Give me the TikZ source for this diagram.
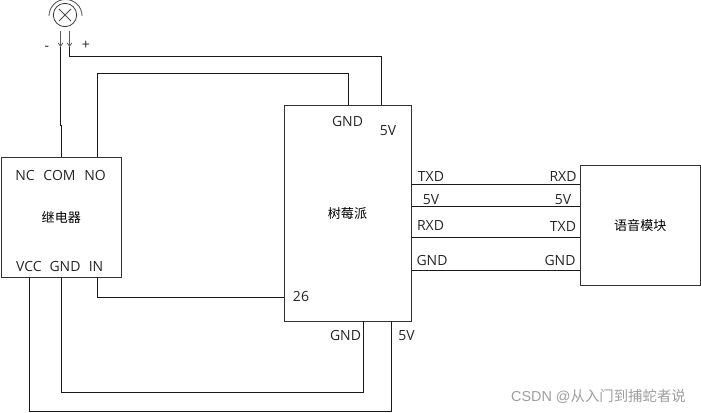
\documentclass[tikz,border=0pt]{standalone}
\usepackage{fontspec}
\setmainfont{Open Sans}
\newfontfamily\cjk{Noto Sans CJK SC}
\newfontfamily\markfont{Liberation Sans}
\usetikzlibrary{arrows.meta}
\tikzset{
	x=0.75pt, y=-0.75pt,
	box/.style={draw=black!80, line width=0.75pt, minimum width=90pt, minimum height=90pt, inner sep=0pt, font=\cjk\fontsize{9.8}{11}\selectfont},
	pin/.style={inner sep=0pt, text height=8pt, text depth=0pt, font=\fontsize{10.5}{12}\selectfont, text=black!85},
	wire/.style={draw=black!90, line width=0.7pt},
	stub/.style={draw=black!65, line width=0.6pt, -{Straight Barb[length=2.5pt,width=3.5pt]}}
}
\begin{document}
\begin{tikzpicture}
	\useasboundingbox (0,0) rectangle (701,413);

	% the three modules
	\node[box] (relay) at (61.3,217.5) {继电器};
	\node[box, minimum width=95.25pt, minimum height=162pt] (pi) at (347.5,213.3) {树莓派};
	\node[box] (voice) at (640.3,225.5) {语音模块};

	% lamp
	\node[draw=black!80, circle, line width=0.6pt, minimum size=17.5pt, inner sep=0pt] (lamp) at (65,15) {};
	\draw[black!70, line width=0.6pt] (lamp.center) ++(-6,-6) -- ++(12,12);
	\draw[black!70, line width=0.6pt] (lamp.center) ++(6,-6) -- ++(-12,12);
	\draw[black!70, line width=0.6pt] (49,16) arc[start angle=180, end angle=0, radius=12.4pt];
	\coordinate (lampa) at (60.5,31);
	\coordinate (lampb) at (69.5,31);
	\coordinate (lampc) at (60.5,47);
	\coordinate (lampd) at (69.5,47);
	\draw[stub] (lampa) -- (lampc);
	\draw[stub] (lampb) -- (lampd);
	\node[pin] (minus) at (47,45) {-};
	\node[pin] (plus) at (86,44) {+};

	% relay pins
	\node[pin] (nc) at (25,175) {NC};
	\node[pin] (com) at (59.5,175) {COM};
	\node[pin] (no) at (95,175) {NO};
	\node[pin] (vcc) at (29,266) {VCC};
	\node[pin] (rgnd) at (65,266) {GND};
	\node[pin] (in) at (96,266) {IN};

	% raspberry pi pins
	\node[pin] (pgnd) at (347.5,121) {GND};
	\node[pin] (pfive) at (388,130) {5V};
	\node[pin] (gpio) at (301,296) {26};
	\node[pin] (pgndb) at (345.5,335) {GND};
	\node[pin] (pfiveb) at (406.5,335) {5V};
	\node[pin] (ptxd) at (431,176) {TXD};
	\node[pin] (pfivec) at (431,199) {5V};
	\node[pin] (prxd) at (430.5,225) {RXD};
	\node[pin] (pgndc) at (432,260) {GND};

	% voice module pins
	\node[pin] (vrxd) at (563,176) {RXD};
	\node[pin] (vfive) at (563,199) {5V};
	\node[pin] (vtxd) at (563,226) {TXD};
	\node[pin] (vgnd) at (560,260) {GND};

	% wires
	\draw[wire] (lampc) -- (60.5,125) -- (61,125) -- (61,157);
	\draw[wire] (lampd) -- (69.5,56) -- (381,56) -- (381,105);
	\draw[wire] (97,157) -- (97,73) -- (348,73) -- (348,105);
	\draw[wire] (97,277) -- (97,297) -- (284,297);
	\draw[wire] (61,277) -- (61,392) -- (363,392) -- (363,321);
	\draw[wire] (29,277) -- (29,411) -- (391,411) -- (391,321);
	\foreach \ypos in {184,206,237,270}
		\draw[wire] (411,\ypos) -- (580,\ypos);

	\node[inner sep=0pt, text=black!38, font=\fontsize{10.8}{12}\selectfont] (mark) at (598.5,396) {\markfont CSDN @\cjk 从入门到捕蛇者说};
\end{tikzpicture}
\end{document}
